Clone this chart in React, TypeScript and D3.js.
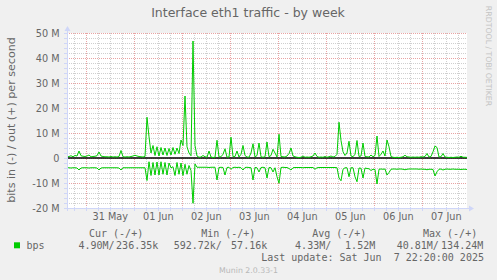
import React from "react";
import * as d3 from "d3";

const W = 497;
const H = 280;

// Time: hourly samples, 30 May 2025 14:20 UTC .. 07 Jun 2025 22:20 UTC
const START_MS = Date.UTC(2025, 4, 30, 14, 20);
const STEP_MS = 3600 * 1000;

// out (+) in Mbit/s
const outMbps = [
  0.4, 0.6, 0.9, 0.5, 1.0, 0.8, 2.8, 0.9, 0.7, 0.6,
  0.8, 1.2, 0.5, 0.6, 0.7, 0.9, 2.4, 0.8, 0.6, 0.5,
  0.5, 0.4, 0.6, 0.4, 0.5, 0.4, 0.6, 3.0, 0.5, 0.4,
  0.5, 0.4, 0.6, 0.8, 1.1, 0.8, 0.6, 0.5, 0.4, 0.6,
  16.3, 8.5, 2.0, 5.0, 1.0, 4.5, 0.8, 4.2, 1.2, 4.0,
  1.0, 3.8, 1.2, 4.2, 1.5, 4.0, 1.8, 7.2, 5.0, 24.8,
  4.5, 2.0, 0.9, 46.8, 5.0, 0.8, 0.3, 0.4, 1.0, 0.5,
  0.3, 2.8, 0.4, 0.2, 0.3, 7.1, 0.4, 0.5, 1.5, 3.7,
  0.3, 0.4, 8.3, 0.5, 0.6, 2.8, 0.4, 1.5, 5.0, 1.0,
  0.4, 0.3, 2.0, 5.7, 0.4, 1.0, 6.0, 0.5, 0.3, 0.5,
  6.4, 0.5, 1.0, 3.5, 2.0, 0.4, 9.5, 0.6, 0.5, 0.4,
  0.8, 1.8, 4.0, 0.8, 0.5, 0.3, 0.2, 0.3, 0.8, 0.3,
  0.4, 0.3, 0.5, 0.8, 2.0, 0.6, 0.3, 0.4, 0.3, 0.6,
  0.3, 0.5, 0.8, 0.4, 0.6, 1.5, 14.3, 7.0, 2.5, 1.0,
  2.0, 6.7, 0.8, 0.5, 1.5, 7.0, 0.6, 0.8, 6.0, 0.6,
  0.5, 0.4, 1.2, 0.5, 1.0, 8.8, 0.6, 1.5, 2.8, 0.8,
  7.2, 4.5, 0.6, 0.3, 0.2, 0.3, 0.2, 0.3, 0.5, 1.1,
  0.5, 0.4, 0.3, 0.4, 0.3, 0.4, 0.3, 0.5, 0.4, 0.6,
  1.8, 0.4, 0.6, 2.5, 4.8, 4.2, 0.4, 0.5, 1.8, 0.4,
  0.3, 0.2, 0.3, 0.2, 0.3, 0.4, 0.3, 0.7, 0.3, 0.3, 0.24,
];

// in (-) in Mbit/s (drawn below zero)
const inMbps = [
  3.9, 3.9, 4.0, 3.9, 3.9, 4.0, 4.8, 4.0, 3.9, 3.9,
  3.9, 4.0, 3.9, 3.9, 3.9, 4.0, 4.8, 4.0, 3.9, 3.9,
  3.9, 3.9, 3.9, 3.9, 3.9, 3.9, 4.0, 4.8, 3.9, 3.9,
  3.9, 3.9, 3.9, 3.9, 3.9, 3.9, 3.9, 3.9, 3.9, 3.9,
  9.0, 1.5, 7.0, 1.8, 6.8, 1.6, 6.8, 1.5, 6.5, 1.8,
  6.8, 2.0, 3.9, 3.5, 7.0, 1.8, 6.5, 2.0, 7.0, 2.5,
  6.5, 3.0, 5.0, 18.1, 2.4, 3.7, 3.7, 3.7, 3.7, 3.7,
  3.7, 3.8, 3.7, 3.7, 3.7, 8.8, 3.8, 3.7, 3.8, 6.8,
  3.8, 3.7, 4.5, 3.8, 3.7, 3.8, 3.7, 3.9, 4.8, 3.8,
  3.7, 3.8, 3.9, 8.8, 3.8, 3.9, 5.6, 3.8, 3.7, 3.9,
  8.0, 3.8, 3.9, 5.6, 3.9, 7.5, 10.1, 3.8, 3.7, 3.8,
  3.8, 4.2, 4.8, 3.9, 3.8, 3.8, 3.8, 3.8, 3.9, 3.8,
  3.8, 3.8, 3.8, 3.8, 4.5, 3.9, 3.8, 3.8, 3.8, 3.8,
  3.8, 3.8, 3.8, 3.8, 3.8, 3.9, 8.0, 9.1, 4.5, 3.9,
  3.9, 7.5, 3.9, 3.9, 7.5, 9.5, 4.0, 4.1, 8.0, 4.0,
  4.2, 4.3, 5.0, 4.5, 4.6, 10.4, 4.5, 4.4, 4.5, 4.4,
  6.8, 5.8, 4.5, 4.4, 4.4, 4.5, 4.4, 4.4, 4.5, 4.7,
  4.5, 4.4, 4.4, 4.4, 4.4, 4.4, 4.5, 4.4, 4.5, 4.5,
  4.7, 4.5, 4.5, 4.6, 7.2, 5.5, 4.5, 4.4, 4.8, 4.5,
  4.4, 4.5, 4.5, 4.4, 4.5, 4.5, 4.5, 4.6, 4.5, 4.5, 4.6,
];

const yMajorTicks = [-20, -10, 0, 10, 20, 30, 40, 50];
const yTickLabels = ["-20 M", "-10 M", "0", "10 M", "20 M", "30 M", "40 M", "50 M"];
const yMinorStep = 2;

const title = "Interface eth1 traffic - by week";
const yAxisLabel = "bits in (-) / out (+) per second";
const sideLabel = "RRDTOOL / TOBI OETIKER";
const seriesName = "bps";
const legendHeaders = ["Cur (-/+)", "Min (-/+)", "Avg (-/+)", "Max (-/+)"];
const legendInValues = ["4.90M/", "592.72k/", "4.33M/", "40.81M/"];
const legendOutValues = ["236.35k", "57.16k", "1.52M", "134.24M"];
const lastUpdate = "Last update: Sat Jun  7 22:20:00 2025";
const watermark = "Munin 2.0.33-1";

const GREEN = "#00cc00";
const FONT_COLOR = "#666666";
const AXIS_COLOR = "#cfd6f8";
const MGRID = "#e9a3a3";
const GRID = "#cfcfcf";

const PRE = { whiteSpace: "pre" as const };
const HEADER_X = [89, 201.2, 312.2, 423];
const IN_X = [78.4, 173.7, 295.1, 396.7];
const OUT_X = [116.1, 231.1, 345.1, 441.1];

export default function App() {
  const n = outMbps.length;
  const times = d3.range(n).map((i) => new Date(START_MS + i * STEP_MS));
  const t0 = times[0];
  const t1 = times[n - 1];

  const x = d3.scaleUtc().domain([t0, t1]).range([67, 467]);
  const y = d3.scaleLinear().domain([-20, 50]).range([208, 33]);

  const lineOut = d3
    .line<number>()
    .x((_, i) => x(times[i]))
    .y((v) => y(v));
  const lineIn = d3
    .line<number>()
    .x((_, i) => x(times[i]))
    .y((v) => y(-v));

  const minorX = d3.utcHour.every(6)!.range(t0, t1).filter((d) => d.getUTCHours() !== 0);
  const majorX = d3.utcDay.range(t0, t1);
  const labelDays = majorX
    .map((d) => new Date(d.getTime() + 12 * 3600 * 1000))
    .filter((d) => d >= t0 && d <= t1);
  const fmt = d3.utcFormat("%d %b");

  const minorY = d3.range(-20, 50 + 0.001, yMinorStep).filter((v) => v % 10 !== 0);

  const crisp = (v: number) => Math.round(v) + 0.5;
  const [x0, x1] = x.range();
  const [yb, yt] = y.range();

  return (
    <svg
      width={W}
      height={H}
      style={{ position: "absolute", left: 0, top: 0, display: "block" }}
      fontFamily="'DejaVu Sans', sans-serif"
    >
      <rect x={0} y={0} width={W} height={H} fill="#f0f0f0" />
      <rect x={x0} y={yt} width={x1 - x0} height={yb - yt} fill="#ffffff" />

      {/* minor grid */}
      {minorY.map((v) => (
        <line key={"my" + v} x1={x0} x2={x1} y1={crisp(y(v))} y2={crisp(y(v))} stroke={GRID} strokeDasharray="1,1" />
      ))}
      {minorX.map((d) => (
        <line key={"mx" + d.getTime()} x1={crisp(x(d))} x2={crisp(x(d))} y1={yt} y2={yb} stroke={GRID} strokeDasharray="1,1" />
      ))}
      {/* major grid */}
      {yMajorTicks.map((v) => (
        <line key={"My" + v} x1={x0} x2={x1} y1={crisp(y(v))} y2={crisp(y(v))} stroke={MGRID} strokeDasharray="1,1" />
      ))}
      {majorX.map((d) => (
        <line key={"Mx" + d.getTime()} x1={crisp(x(d))} x2={crisp(x(d))} y1={yt} y2={yb} stroke={MGRID} strokeDasharray="1,1" />
      ))}

      {/* zero rule */}
      <line x1={x0} x2={x1} y1={y(0)} y2={y(0)} stroke="#000000" strokeWidth={1.6} />

      {/* series */}
      <path d={lineIn(inMbps) || ""} fill="none" stroke={GREEN} strokeWidth={1} />
      <path d={lineOut(outMbps) || ""} fill="none" stroke={GREEN} strokeWidth={1} />

      {/* axes */}
      <line x1={x0 - 3} x2={x1 + 3} y1={crisp(yb)} y2={crisp(yb)} stroke={AXIS_COLOR} />
      <line x1={crisp(x0)} x2={crisp(x0)} y1={yb + 3} y2={yt - 3} stroke={AXIS_COLOR} />
      <path d={`M${x1 + 2},${crisp(yb) - 3} L${x1 + 7},${crisp(yb)} L${x1 + 2},${crisp(yb) + 3} Z`} fill={AXIS_COLOR} />
      <path d={`M${crisp(x0) - 3},${yt - 2} L${crisp(x0)},${yt - 7} L${crisp(x0) + 3},${yt - 2} Z`} fill={AXIS_COLOR} />
      {[...minorX, ...majorX].map((d) => (
        <line key={"tx" + d.getTime()} x1={crisp(x(d))} x2={crisp(x(d))} y1={yb - 1} y2={yb + 3} stroke={AXIS_COLOR} />
      ))}
      {[...minorY, ...yMajorTicks].map((v) => (
        <line key={"ty" + v} x1={x0 - 3} x2={x0 + 1} y1={crisp(y(v))} y2={crisp(y(v))} stroke={AXIS_COLOR} />
      ))}

      {/* y tick labels */}
      {yMajorTicks.map((v, i) => (
        <text key={"yl" + v} x={59.5} y={y(v) + 3.5} textAnchor="end" fontSize={9.7} fill={FONT_COLOR}>
          {yTickLabels[i]}
        </text>
      ))}
      {/* x tick labels */}
      {labelDays.map((d) => (
        <text key={"xl" + d.getTime()} x={x(d)} y={219.5} textAnchor="middle" fontSize={9.7} fill={FONT_COLOR}>
          {fmt(d)}
        </text>
      ))}

      {/* title */}
      <text x={248} y={17} textAnchor="middle" fontSize={12.5} fill={FONT_COLOR}>
        {title}
      </text>
      {/* y axis label */}
      <text transform="translate(15,120) rotate(-90)" textAnchor="middle" fontSize={11.1} fill={FONT_COLOR}>
        {yAxisLabel}
      </text>
      {/* side watermark */}
      <text transform="translate(486,56) rotate(90)" textAnchor="middle" fontSize={7.8} fill="#c4c4c4">
        {sideLabel}
      </text>

      {/* legend */}
      <g fontFamily="'DejaVu Sans Mono', monospace" fontSize={10} fill={FONT_COLOR}>
        {legendHeaders.map((h, i) => (
          <text key={"lh" + i} x={HEADER_X[i]} y={237.3} xmlSpace="preserve" style={PRE}>
            {h}
          </text>
        ))}
        <rect x={14} y={242.3} width={6} height={6} fill={GREEN} />
        <text x={26.5} y={249}>{seriesName}</text>
        {legendInValues.map((v, i) => (
          <text key={"li" + i} x={IN_X[i]} y={249}>
            {v}
          </text>
        ))}
        {legendOutValues.map((v, i) => (
          <text key={"lo" + i} x={OUT_X[i]} y={249}>
            {v}
          </text>
        ))}
        <text x={261.2} y={261.3} xmlSpace="preserve" style={PRE}>
          {lastUpdate}
        </text>
      </g>
      <text x={248.5} y={273.3} textAnchor="middle" fontSize={7.8} fill="#b8b8b8">
        {watermark}
      </text>
    </svg>
  );
}
